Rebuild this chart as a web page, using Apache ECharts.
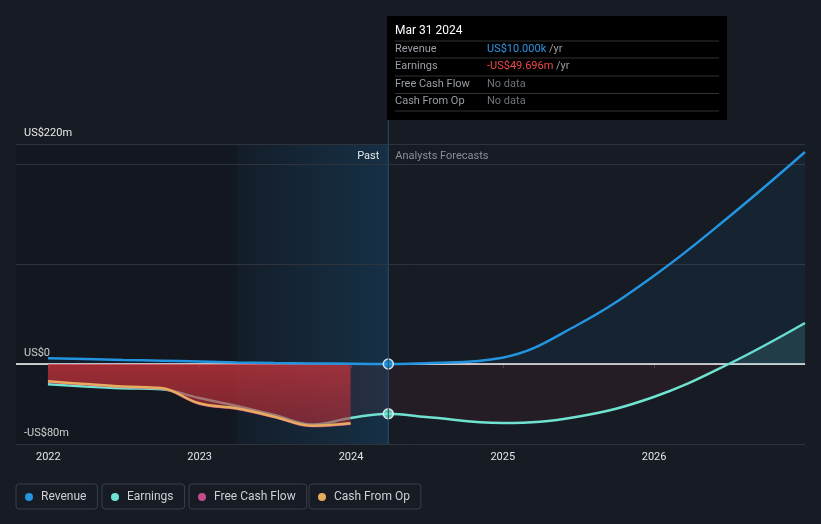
<!DOCTYPE html>
<html><head><meta charset="utf-8">
<script src="https://cdn.jsdelivr.net/npm/echarts@6/dist/echarts.min.js"></script>
<style>html,body{margin:0;padding:0;background:#161b24;}#c{width:821px;height:524px;}</style>
</head><body><div id="c"></div>
<script>
// ---- data ----
const pastDates = ['2021-12-31','2022-03-31','2022-06-30','2022-09-30','2022-12-31','2023-03-31','2023-06-30','2023-09-30','2023-12-31','2024-03-31'];
const forecastDates = ['2024-06-30','2024-12-31','2025-06-30','2025-12-31','2026-06-30','2026-12-31'];
const revenuePast = [5.8, 5.0, 4.0, 3.3, 2.6, 1.6, 1.0, 0.6, 0.3, 0.01];
const revenueForecast = [0.7, 6.3, 39, 88, 147, 212];
const earningsPast = [-20.3, -22.5, -24.2, -25.2, -34, -42, -51, -60.5, -54, -49.7];
const earningsForecast = [-53, -59, -52.7, -33, 0, 41];
const cashDates = ['2021-12-31','2022-03-31','2022-06-30','2022-09-30','2022-12-31','2023-03-31','2023-06-30','2023-09-30','2023-12-31'];
const cashFromOp = [-17.3, -20, -22.5, -24, -39.3, -44.3, -52.7, -61.7, -59.3];
const freeCashFlow = [-18, -20.6, -23, -24.6, -40, -45, -53.2, -62.3, -60];
const seriesNames = ['Revenue', 'Earnings', 'Free Cash Flow', 'Cash From Op'];
const seriesColors = ['#2394df', '#6fe3d0', '#c44c8a', '#e8ac5f'];
const yLabelValues = [220, 0, -80];
const gridValues = [220, 200, 100, -80];
const nowDate = '2024-03-31';
const highlightStart = '2023-03-31';
const axisMin = '2021-10-15';
const axisMax = '2026-12-31';
const tooltipTitle = 'Mar 31 2024';
const tooltipLabels = ['Revenue', 'Earnings', 'Free Cash Flow', 'Cash From Op'];
const tooltipValues = ['US$10.000k', '-US$49.696m', 'No data', 'No data'];
const tooltipUnits = ['/yr', '/yr', '', ''];
const tooltipValueColors = ['#2e96e6', '#f04848', '#6f737a', '#6f737a'];

function zip(d, v) { return d.map((x, i) => [x, v[i]]); }
function fmtY(v) { return v === 0 ? 'US$0' : (v < 0 ? '-US$' + (-v) + 'm' : 'US$' + v + 'm'); }

const chart = echarts.init(document.getElementById('c'));
const FONT = 'Roboto';

const earningsFill = new echarts.graphic.LinearGradient(0, 144, 0, 444, [
  {offset: 0, color: 'rgba(110,231,213,0.2)'},
  {offset: 0.733, color: 'rgba(110,231,213,0.2)'},
  {offset: 0.734, color: 'rgba(229,57,62,0.1)'},
  {offset: 1, color: 'rgba(229,57,62,0.1)'}
], true);

const legends = seriesNames.map((n, i) => ({
  data: [n], left: [16, 102, 189, 309][i], top: 484,
  icon: 'circle', itemWidth: 14, itemHeight: 8,
  padding: [7, 11, 6, 9], borderColor: '#393e47', borderWidth: 1, borderRadius: 3,
  textStyle: {color: '#cdd0d5', fontSize: 12, fontFamily: FONT},
  selectedMode: false
}));

chart.setOption({
  backgroundColor: '#161b24',
  animation: false,
  textStyle: {fontFamily: FONT},
  grid: {left: 16, right: 16, top: 144, bottom: 80},
  legend: legends,
  xAxis: {
    type: 'time', min: axisMin, max: axisMax, splitNumber: 5,
    minInterval: 365 * 864e5, maxInterval: 366 * 864e5,
    axisLine: {lineStyle: {color: '#3d424a', width: 1}},
    axisTick: {show: true, length: 4, lineStyle: {color: '#3d424a'}},
    splitLine: {show: false},
    axisLabel: {color: '#e4e4e4', fontSize: 11, margin: 8, showMinLabel: false, showMaxLabel: false,
      formatter: v => String(new Date(v).getFullYear())}
  },
  yAxis: {
    type: 'value', min: -80, max: 220,
    axisLine: {show: false}, axisTick: {show: false}, splitLine: {show: false},
    axisLabel: {inside: true, margin: 8, verticalAlign: 'bottom', padding: [0, 0, 5, 0],
      color: '#e8e8e8', fontSize: 11, customValues: yLabelValues, formatter: fmtY}
  },
  series: [
    {
      name: 'Earnings', type: 'line', z: 2, smooth: 0.4, symbol: 'none',
      data: zip(pastDates.concat(forecastDates), earningsPast.concat(earningsForecast)),
      lineStyle: {color: seriesColors[1], width: 2.5}, itemStyle: {color: seriesColors[1]},
      areaStyle: {color: earningsFill, origin: 0},
      markArea: {
        silent: true,
        data: [
          [{xAxis: axisMin, itemStyle: {color: 'rgba(0,0,0,0.12)'}}, {xAxis: nowDate}],
          [{xAxis: highlightStart, itemStyle: {color: new echarts.graphic.LinearGradient(0, 0, 1, 0, [
            {offset: 0, color: 'rgba(35,148,224,0.05)'}, {offset: 1, color: 'rgba(35,148,224,0.2)'}])}}, {xAxis: nowDate}]
        ]
      },
      markLine: {
        silent: true, symbol: 'none', z: 1, label: {show: false},
        data: gridValues.map(v => ({yAxis: v, lineStyle: {color: '#2f343c', width: 1, type: 'solid'}}))
          .concat([{yAxis: 0, lineStyle: {color: '#ffffff', width: 1.5, type: 'solid'}}])
      }
    },
    {
      name: 'Free Cash Flow', type: 'line', z: 3, smooth: 0.4, symbol: 'none',
      data: zip(cashDates, freeCashFlow),
      lineStyle: {color: seriesColors[2], width: 2}, itemStyle: {color: seriesColors[2]},
      areaStyle: {origin: 0, opacity: 1, color: new echarts.graphic.LinearGradient(0, 0, 0, 1, [
        {offset: 0, color: 'rgba(205,52,60,0.72)'}, {offset: 1, color: 'rgba(185,45,55,0.55)'}])}
    },
    {
      name: 'Cash From Op', type: 'line', z: 4, smooth: 0.4, symbol: 'none',
      data: zip(cashDates, cashFromOp),
      lineStyle: {color: seriesColors[3], width: 2.5}, itemStyle: {color: seriesColors[3]}
    },
    {
      name: 'Revenue', type: 'line', z: 5, smooth: 0.4, symbol: 'none',
      data: zip(pastDates.concat(forecastDates), revenuePast.concat(revenueForecast)),
      lineStyle: {color: seriesColors[0], width: 2.5}, itemStyle: {color: seriesColors[0]},
      areaStyle: {origin: 0, color: 'rgba(35,148,224,0.1)'}
    },
    {
      name: 'nowPoints', type: 'scatter', z: 10, symbolSize: 10,
      data: [
        {value: [nowDate, revenuePast[revenuePast.length - 1]], itemStyle: {color: seriesColors[0]}},
        {value: [nowDate, earningsPast[earningsPast.length - 1]], itemStyle: {color: seriesColors[1]}}
      ],
      itemStyle: {borderColor: '#ffffff', borderWidth: 1.5}
    }
  ]
});

// tooltip-like panel and past / forecast labels placed from axis scale
const px = chart.convertToPixel({gridIndex: 0}, [nowDate, 0])[0];
const topY = chart.convertToPixel({gridIndex: 0}, [nowDate, 220])[1];
const botY = chart.convertToPixel({gridIndex: 0}, [nowDate, -80])[1];
const boxX = Math.round(px) - 1, boxY = 16, boxW = 340, boxH = 104;
const g = [];
g.push({type: 'line', silent: true, z: 50, shape: {x1: px, y1: boxY + boxH, x2: px, y2: botY}, style: {stroke: '#22506f', lineWidth: 1}});
g.push({type: 'rect', silent: true, z: 60, shape: {x: boxX, y: boxY, width: boxW, height: boxH}, style: {fill: '#000000'}});
g.push({type: 'text', silent: true, z: 61, x: boxX + 8, y: 31, style: {text: tooltipTitle, fill: '#ffffff', font: '12px Roboto', verticalAlign: 'middle'}});
const sepYs = [41, 58, 76, 93.5, 111];
sepYs.forEach(y => g.push({type: 'line', silent: true, z: 61, shape: {x1: boxX + 8, y1: y, x2: boxX + boxW - 8, y2: y}, style: {stroke: '#333333', lineWidth: 1}}));
const rowYs = [49.5, 66.5, 84, 101.5];
tooltipLabels.forEach((l, i) => {
  g.push({type: 'text', silent: true, z: 61, x: boxX + 8, y: rowYs[i], style: {text: l, fill: '#9a9ea5', font: '11px Roboto', verticalAlign: 'middle'}});
  g.push({type: 'text', silent: true, z: 61, x: boxX + 100, y: rowYs[i], style: {
    text: '{v|' + tooltipValues[i] + '}' + (tooltipUnits[i] ? ' {u|' + tooltipUnits[i] + '}' : ''),
    verticalAlign: 'middle', font: '11px Roboto',
    rich: {v: {fill: tooltipValueColors[i], font: '11px Roboto'}, u: {fill: '#9a9ea5', font: '11px Roboto'}}
  }});
});
g.push({type: 'text', silent: true, z: 61, x: px - 9, y: topY + 12, style: {text: 'Past', fill: '#e6e6e6', font: '11px Roboto', align: 'right', verticalAlign: 'middle'}});
g.push({type: 'text', silent: true, z: 61, x: px + 7, y: topY + 12, style: {text: 'Analysts Forecasts', fill: '#8a8f97', font: '11px Roboto', align: 'left', verticalAlign: 'middle'}});
chart.setOption({graphic: g});
</script>
</body></html>
